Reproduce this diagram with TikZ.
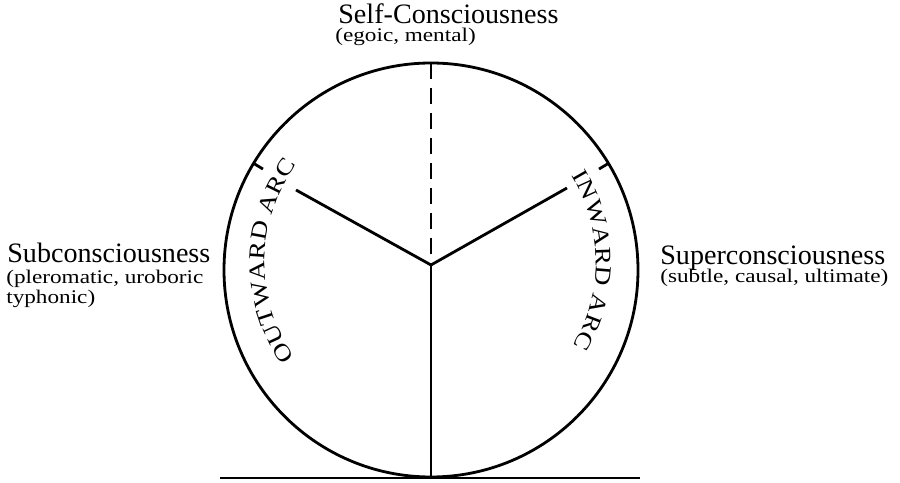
\documentclass[tikz,border=0pt]{standalone}
\usepackage{fontspec}
\setmainfont{Liberation Serif}
\newfontfamily\widefont{Liberation Serif}[FakeStretch=1.2]
\usetikzlibrary{decorations.text}
\newcommand\arcfont{\widefont\fontsize{13}{15}\selectfont}

\begin{document}
\begin{tikzpicture}[
  x=0.02cm, y=0.02cm,
  heading/.style={font=\fontsize{16}{18}\selectfont, inner sep=0pt, anchor=base west},
  subtext/.style={font=\widefont\fontsize{11}{11.66}\selectfont, inner sep=0pt, align=left, anchor=base west},
  stroke/.style={line width=1.6pt},
  dashline/.style={stroke, dash pattern=on 0.32cm off 0.18cm},
  arctext/.style={decorate, decoration={text along path, text align={fit to path},
    text format delimiters={|}{|}}}
]
\useasboundingbox (0,0) rectangle (900,483);

% Points of the wheel.
\coordinate (centre) at (431,213);
\coordinate (textcentre) at (431,221);
\coordinate (top) at (431,420);
\coordinate (hub) at (431,218);
\coordinate (base) at (431,6);
\coordinate (armL) at (296,293);
\coordinate (armR) at (567,295);

% Ground line and circle.
\draw[stroke] (220,5) coordinate (groundL) -- (640,5) coordinate (groundR);
\draw[stroke] (centre) circle[radius=207];

% Spokes.
\draw[dashline] (top) -- (hub);
\draw[stroke] (hub) -- (base);
\draw[stroke] (hub) -- (armL);
\draw[stroke] (hub) -- (armR);

% Ticks that close the arcs.
\draw[stroke] ([shift={(149:207)}]centre) -- ([shift={(149:196)}]centre);
\draw[stroke] ([shift={(31:207)}]centre) -- ([shift={(31:196)}]centre);

% Arc labels.
\path[arctext, decoration={text={|\arcfont|OUTWARD ARC}}]
  ([shift={(215:166)}]textcentre) arc[start angle=215, end angle=144, radius=166];
\path[arctext, decoration={text={|\arcfont|INWARD ARC}}]
  ([shift={(31.5:165)}]textcentre) arc[start angle=31.5, end angle=-30.5, radius=165];

% Stage labels.
\node[heading] (selfcon) at (338,459) {Self-Consciousness};
\node[subtext] (selfsub) at (335,441) {(egoic, mental)};
\node[heading] (subcon) at (7,220) {Subconsciousness};
\node[subtext] (subsub) at (6,179) {(pleromatic, uroboric\\typhonic)};
\node[heading] (supercon) at (660,218) {Superconsciousness};
\node[subtext] (supersub) at (660,200) {(subtle, causal, ultimate)};

\end{tikzpicture}
\end{document}
